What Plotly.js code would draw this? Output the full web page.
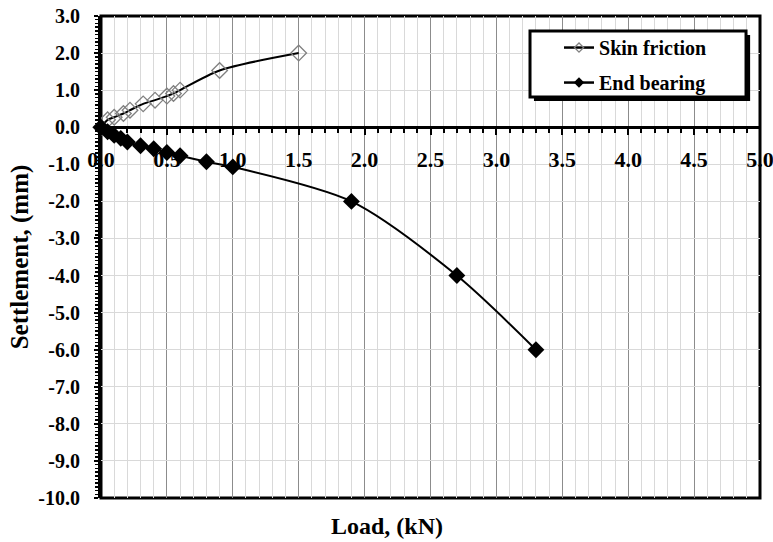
<!DOCTYPE html>
<html>
<head>
<meta charset="utf-8">
<script src="https://cdn.plot.ly/plotly-3.0.1.min.js"></script>
<style>html,body{margin:0;padding:0;background:#fff;}#chart{width:773px;height:542px;}</style>
</head>
<body>
<div id="chart"></div>
<script>
// Data
var skinLoad = [0, 0.05, 0.1, 0.17, 0.22, 0.32, 0.41, 0.5, 0.55, 0.6, 0.9, 1.5];
var skinSettlement = [0, 0.2, 0.27, 0.37, 0.46, 0.63, 0.73, 0.84, 0.91, 1.0, 1.53, 2.0];
var endLoad = [0, 0.05, 0.1, 0.15, 0.2, 0.3, 0.4, 0.5, 0.6, 0.8, 1.0, 1.9, 2.7, 3.3];
var endSettlement = [0, -0.12, -0.22, -0.3, -0.4, -0.5, -0.58, -0.68, -0.77, -0.93, -1.07, -2.0, -4.0, -6.0];
var seriesNames = ['Skin friction', 'End bearing'];
var xTickVals = [0, 0.5, 1, 1.5, 2, 2.5, 3, 3.5, 4, 4.5, 5];
var xTickText = ['0.0', '0.5', '1.0', '1.5', '2.0', '2.5', '3.0', '3.5', '4.0', '4.5', '5.0'];
var yTickVals = [3, 2, 1, 0, -1, -2, -3, -4, -5, -6, -7, -8, -9, -10];
var yTickText = ['3.0', '2.0', '1.0', '0.0', '-1.0', '-2.0', '-3.0', '-4.0', '-5.0', '-6.0', '-7.0', '-8.0', '-9.0', '-10.0'];

var serif = 'Liberation Serif, Times New Roman, serif';

var traces = [
  {
    x: skinLoad, y: skinSettlement, type: 'scatter', mode: 'lines+markers',
    name: seriesNames[0], showlegend: false, cliponaxis: false,
    line: {color: '#000000', width: 2, shape: 'spline', smoothing: 0.8},
    marker: {symbol: 'diamond-open', size: 12, color: '#808080', line: {color: '#808080', width: 1.3}}
  },
  {
    x: endLoad, y: endSettlement, type: 'scatter', mode: 'lines+markers',
    name: seriesNames[1], showlegend: false, cliponaxis: false,
    line: {color: '#000000', width: 2, shape: 'spline', smoothing: 0.8},
    marker: {symbol: 'diamond', size: 13, color: '#000000'}
  },
  {
    x: [null], y: [null], type: 'scatter', mode: 'lines+markers',
    name: seriesNames[0], legendgroup: 'a',
    line: {color: '#000000', width: 2.5},
    marker: {symbol: 'diamond-open', size: 7, color: '#808080', line: {color: '#808080', width: 1.3}}
  },
  {
    x: [null], y: [null], type: 'scatter', mode: 'lines+markers',
    name: seriesNames[1], legendgroup: 'b',
    line: {color: '#000000', width: 2.5},
    marker: {symbol: 'diamond', size: 8, color: '#000000'}
  }
];

var layout = {
  width: 773, height: 542,
  margin: {l: 101, r: 13, t: 16, b: 44},
  paper_bgcolor: '#ffffff', plot_bgcolor: '#ffffff',
  showlegend: true,
  font: {family: serif, color: '#000000'},
  xaxis: {
    range: [0, 5], anchor: 'free', position: 10 / 13,
    tickmode: 'array', tickvals: xTickVals, ticktext: xTickText,
    showgrid: true, gridcolor: '#8c8c8c', gridwidth: 1,
    showline: true, linecolor: '#000000', linewidth: 3,
    ticks: 'outside', ticklen: 6, tickwidth: 2, tickcolor: '#000000',
    ticklabelstandoff: 5, ticklabeloverflow: 'allow',
    minor: {dtick: 0.1, ticks: 'outside', ticklen: 4, tickwidth: 2, tickcolor: '#000000', showgrid: true, gridcolor: '#d9d9d9', gridwidth: 1},
    zeroline: false, fixedrange: true,
    tickfont: {family: serif, size: 22, weight: 'bold', color: '#000000'}
  },
  yaxis: {
    range: [-10, 3],
    tickmode: 'array', tickvals: yTickVals, ticktext: yTickText,
    showgrid: true, gridcolor: '#d9d9d9', gridwidth: 1,
    showline: true, linecolor: '#000000', linewidth: 3,
    ticks: 'outside', ticklen: 4, tickwidth: 2, tickcolor: '#000000',
    ticklabelstandoff: 10,
    minor: {dtick: 0.1, ticks: 'outside', ticklen: 3, tickwidth: 1.5, tickcolor: '#000000', showgrid: false},
    zeroline: false, fixedrange: true,
    tickfont: {family: serif, size: 20, weight: 'bold', color: '#000000'},
    title: {text: 'Settlement, (mm)', standoff: 3, font: {family: serif, size: 25, weight: 'bold', color: '#000000'}}
  },
  legend: {
    x: 0.695, y: 0.975, xanchor: 'left', yanchor: 'top',
    bgcolor: 'rgba(0,0,0,0)', borderwidth: 0,
    font: {family: serif, size: 20, weight: 'bold', color: '#000000'},
    traceorder: 'grouped', tracegroupgap: 6
  },
  shapes: [
    {type: 'rect', xref: 'paper', yref: 'paper', x0: 0, x1: 1, y0: 0, y1: 1,
     line: {color: '#000000', width: 3}, layer: 'below'},
    {type: 'rect', xref: 'paper', yref: 'paper', x0: 0.657, x1: 0.985, y0: 0.8237, y1: 0.9606,
     fillcolor: '#000000', line: {color: '#000000', width: 0}, layer: 'above'},
    {type: 'rect', xref: 'paper', yref: 'paper', x0: 0.651, x1: 0.9788, y0: 0.832, y1: 0.969,
     fillcolor: '#ffffff', line: {color: '#000000', width: 3}, layer: 'above'}
  ],
  annotations: [
    {text: 'Load, (kN)', xref: 'paper', yref: 'paper', x: 0.434, y: -0.058,
     xanchor: 'center', yanchor: 'middle', showarrow: false,
     font: {family: serif, size: 24, weight: 'bold', color: '#000000'}}
  ]
};

Plotly.newPlot('chart', traces, layout, {displayModeBar: false, staticPlot: true});
</script>
</body>
</html>
